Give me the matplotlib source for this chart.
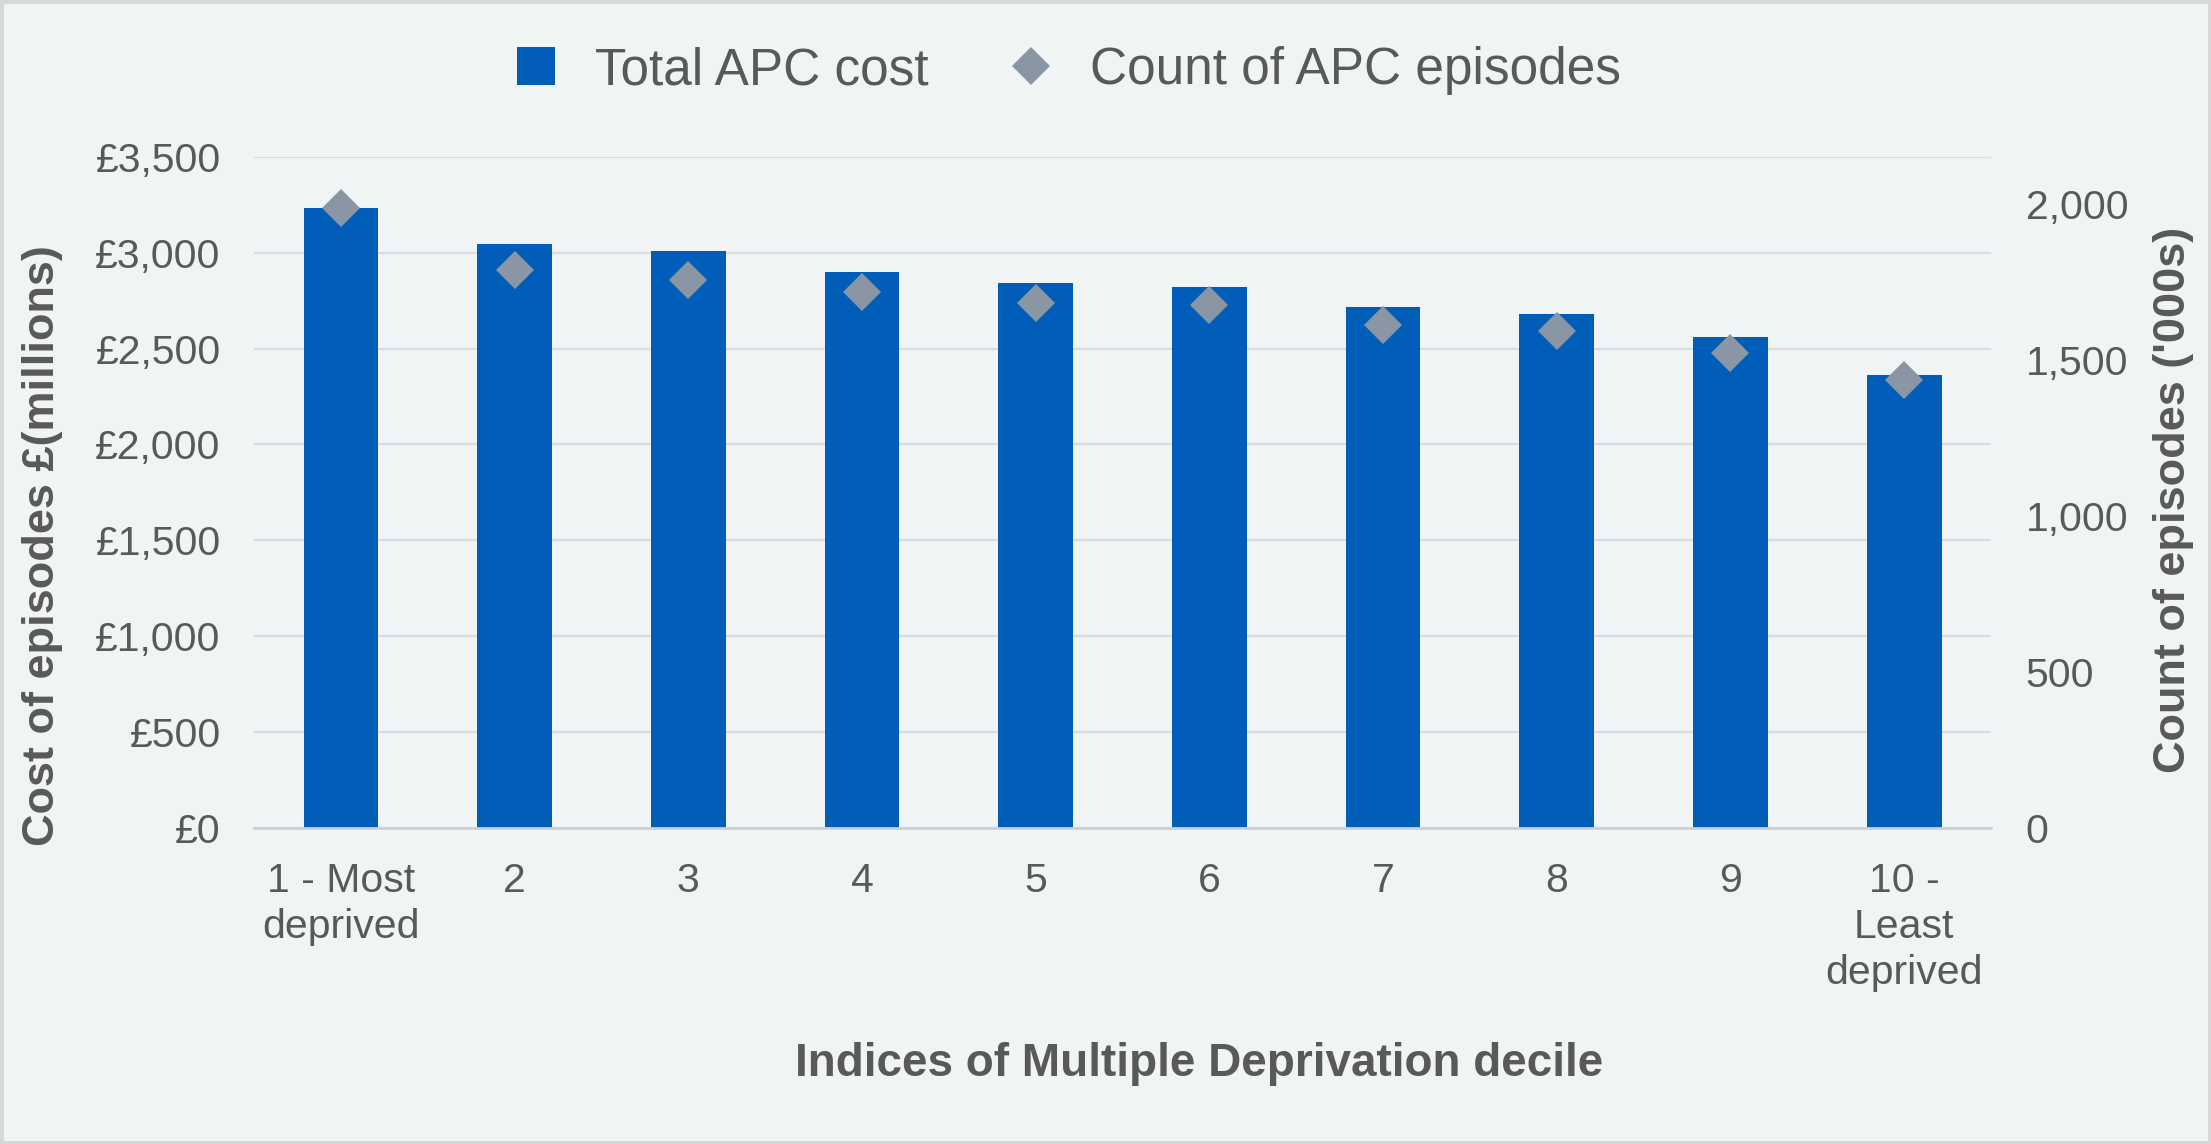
import numpy as np
import matplotlib
matplotlib.use("Agg")
import matplotlib.pyplot as plt
from matplotlib.lines import Line2D
from matplotlib.patches import Rectangle
from matplotlib.ticker import FuncFormatter

plt.rcParams['font.family'] = ['Liberation Sans', 'DejaVu Sans']

deciles = ['1 - Most\ndeprived', '2', '3', '4', '5', '6', '7', '8', '9', '10 -\nLeast\ndeprived']
total_cost = [3235, 3046, 3009, 2900, 2842, 2820, 2715, 2680, 2558, 2361]   # £ millions
episodes = [1987, 1789, 1754, 1716, 1681, 1676, 1612, 1591, 1523, 1434]      # '000s

blue = '#005EB8'
grey = '#8A96A3'
txt = '#595959'
bg = '#F1F4F5'

fig = plt.figure(figsize=(22.11, 11.44), dpi=100, facecolor=bg)
ax = fig.add_axes([0.1149, 0.2765, 0.7856, 0.5863])
ax.set_facecolor('none')
fig.patches.append(Rectangle((0, 0), 1, 1, transform=fig.transFigure,
                             fill=False, edgecolor='#D6D8DA', linewidth=5))

x = np.arange(len(deciles))
ax.bar(x, total_cost, width=0.43, color=blue, zorder=2)
ax.set_xlim(-0.5, len(deciles) - 0.5)
ax.set_ylim(0, 3500)
ax.set_yticks(np.arange(0, 3501, 500))
ax.yaxis.set_major_formatter(FuncFormatter(lambda v, p: '£{:,.0f}'.format(v)))
ax.set_xticks(x)
ax.set_xticklabels(deciles, linespacing=1.26)
ax.grid(axis='y', color='#DADDDF', linewidth=1.6, zorder=0)
ax.set_axisbelow(True)
for s in ['top', 'left', 'right']:
    ax.spines[s].set_visible(False)
ax.spines['bottom'].set_color('#CDD0D3')
ax.spines['bottom'].set_linewidth(2)
ax.tick_params(axis='y', length=0, pad=24, labelsize=29.5, labelcolor=txt)
ax.tick_params(axis='x', length=0, pad=25, labelsize=29.5, labelcolor=txt)

ax2 = ax.twinx()
ax2.plot(x, episodes, linestyle='none', marker='D', markersize=19.5,
         color=grey, markeredgewidth=0, zorder=3)
ax2.set_ylim(0, 2150)
ax2.set_yticks(np.arange(0, 2001, 500))
ax2.yaxis.set_major_formatter(FuncFormatter(lambda v, p: '{:,.0f}'.format(v)))
ax2.tick_params(axis='y', length=0, pad=25, labelsize=29.5, labelcolor=txt)
for s in ['top', 'left', 'right', 'bottom']:
    ax2.spines[s].set_visible(False)

ax.set_ylabel('Cost of episodes £(millions)', fontsize=32.5, fontweight='bold',
              color=txt, va='center')
ax.yaxis.set_label_coords(-0.122, 0.42)
ax2.set_ylabel("Count of episodes ('000s)", fontsize=32.5, fontweight='bold',
               color=txt, va='center', rotation=90)
ax2.yaxis.set_label_coords(1.105, 0.488)
ax.set_xlabel('Indices of Multiple Deprivation decile', fontsize=33,
              fontweight='bold', color=txt, va='center')
ax.xaxis.set_label_coords(0.544, -0.352)

handles = [Line2D([], [], linestyle='none', marker='s', markersize=27,
                  color=blue, markeredgewidth=0, label='Total APC cost'),
           Line2D([], [], linestyle='none', marker='D', markersize=19.5,
                  color=grey, markeredgewidth=0, label='Count of APC episodes')]
fig.legend(handles=handles, loc='center', bbox_to_anchor=(0.482, 0.938), ncol=2,
           frameon=False, fontsize=37, labelcolor=txt, handlelength=1.0,
           handletextpad=0.65, columnspacing=1.5)

fig.savefig('out.png', dpi=100, facecolor=bg)
